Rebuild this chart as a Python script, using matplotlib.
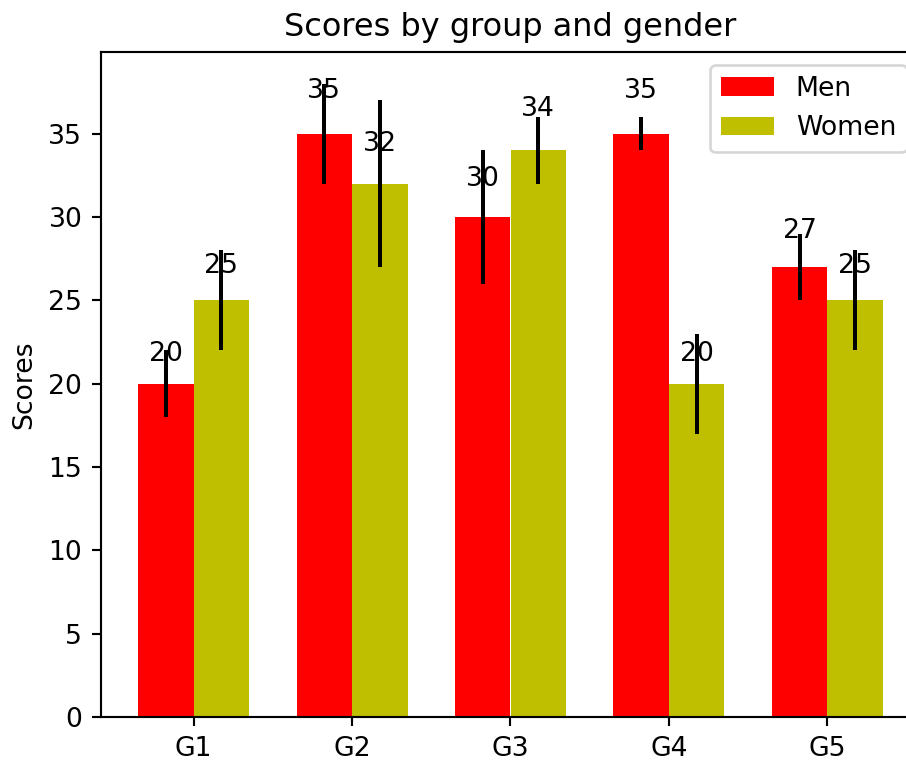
import numpy as np
import matplotlib
matplotlib.use('Agg')
import matplotlib.pyplot as plt

groups = ['G1', 'G2', 'G3', 'G4', 'G5']
men_means = [20, 35, 30, 35, 27]
men_std = [2, 3, 4, 1, 2]
women_means = [25, 32, 34, 20, 25]
women_std = [3, 5, 2, 3, 3]

ind = np.arange(len(groups))
width = 0.35

DPI = 192
fig = plt.figure(figsize=(906 / DPI, 760 / DPI), dpi=DPI)
# axes run a little past the right edge of the picture, as in the reference
ax = fig.add_axes([101 / 906, 1 - 717 / 760, 819 / 906, 665 / 760])

rects1 = ax.bar(ind, men_means, width, color='r', yerr=men_std)
rects2 = ax.bar(ind + width, women_means, width, color='y', yerr=women_std)

ax.set_ylabel('Scores')
ax.set_title('Scores by group and gender')
ax.set_xticks(ind + width / 2)
ax.set_xticklabels(groups)
ax.legend((rects1[0], rects2[0]), ('Men', 'Women'), loc='upper right')


def autolabel(rects):
    # value above each bar
    for rect in rects:
        h = rect.get_height()
        ax.text(rect.get_x() + rect.get_width() / 2., 1.05 * h,
                '%d' % int(h), ha='center', va='bottom')


autolabel(rects1)
autolabel(rects2)

fig.savefig('out.png', dpi=DPI)
